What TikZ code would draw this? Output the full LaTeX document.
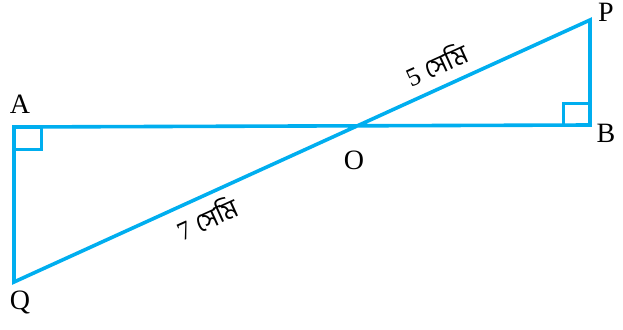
\documentclass[tikz,border=0pt]{standalone}
\usepackage{fontspec}
\setmainfont{Liberation Serif}
\newfontfamily\bngfont[Script=Bengali]{Hind Siliguri}
\definecolor{figcyan}{RGB}{0,174,239}
\begin{document}
\begin{tikzpicture}[x=1pt,y=-1pt,
  figline/.style={figcyan,line width=3.6pt,line join=miter},
  figmark/.style={figcyan,line width=3pt},
  ptlabel/.style={inner sep=0pt,text=black,font=\fontsize{28}{32}\selectfont},
  lenlabel/.style={inner sep=2pt,sloped,text=black,font=\fontsize{26}{30}\selectfont}]
  \useasboundingbox (0,0) rectangle (623,329);
  \coordinate (vA) at (14,127);
  \coordinate (vB) at (590,125);
  \coordinate (vP) at (590,20);
  \coordinate (vQ) at (14,282);
  \node[ptlabel] (lA) at (20,104) {A};
  \node[ptlabel] (lB) at (606,133) {B};
  \node[ptlabel] (lP) at (606,12) {P};
  \node[ptlabel] (lQ) at (20,302) {Q};
  \node[ptlabel] (lO) at (354,160) {O};
  \draw[figmark] (vA) rectangle ++(27,22);
  \draw[figmark] (vB) rectangle ++(-27,-22);
  \draw[figline] (vA)--(vB)--(vP)
    --node[lenlabel,pos=0.25,above=8pt] {5 {\bngfont সেমি}}
      node[lenlabel,pos=0.68,below=6pt] {7 {\bngfont সেমি}} (vQ)--cycle;
\end{tikzpicture}
\end{document}
